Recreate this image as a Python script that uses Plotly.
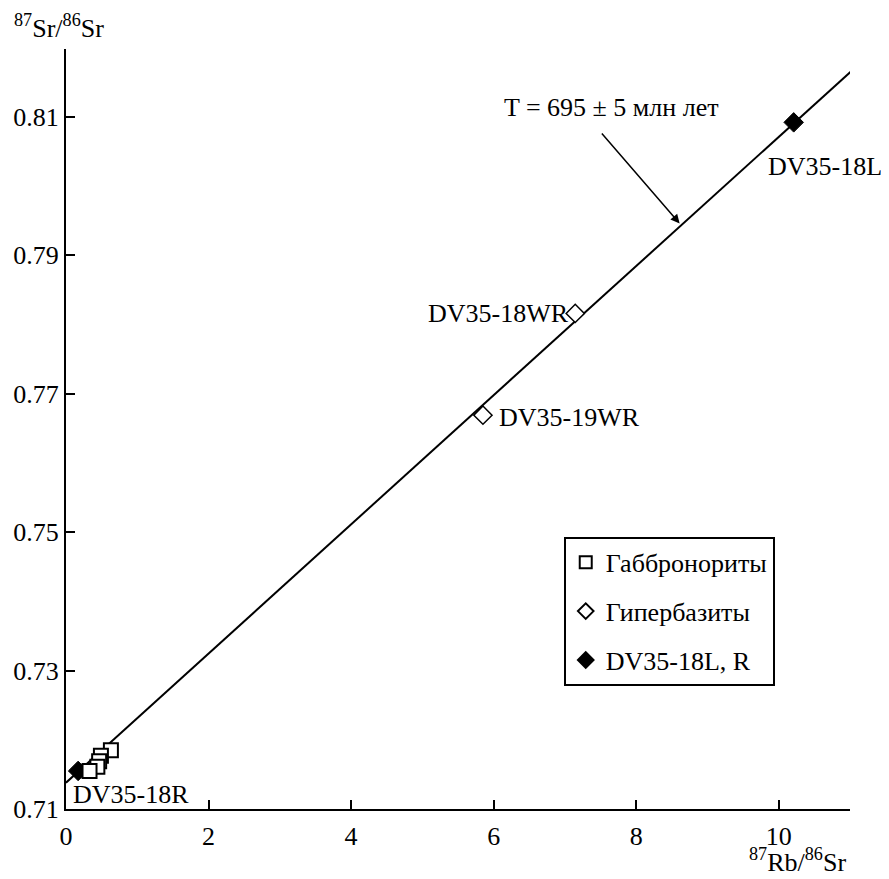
import plotly.graph_objects as go

# Габбронориты (open squares)
gab_x = [0.63, 0.49, 0.465, 0.44, 0.33]
gab_y = [0.7185, 0.7177, 0.7169, 0.7161, 0.7155]

# Гипербазиты (open diamonds)
hyp_names = ["DV35-18WR", "DV35-19WR"]
hyp_x = [7.145, 5.85]
hyp_y = [0.7816, 0.7669]

# DV35-18L, R (filled diamonds)
dv_names = ["DV35-18L", "DV35-18R"]
dv_x = [10.21, 0.17]
dv_y = [0.8092, 0.7155]

# Isochron
iso_x = [0.0, 11.05]
iso_intercept = 0.7138
iso_slope = 0.00933
iso_y = [iso_intercept + iso_slope * v for v in iso_x]

x_ticks = [0, 2, 4, 6, 8, 10]
y_ticks = [0.71, 0.73, 0.75, 0.77, 0.79, 0.81]

FONT = "Liberation Serif, Times New Roman, serif"
fs = 26

fig = go.Figure()
fig.add_trace(go.Scatter(x=iso_x, y=iso_y, mode="lines",
                         line=dict(color="black", width=2), showlegend=False,
                         hoverinfo="skip"))
fig.add_trace(go.Scatter(x=dv_x, y=dv_y, mode="markers", name="DV35-18L, R",
                         legendgroup="c", legendrank=3,
                         marker=dict(symbol="diamond", size=15, color="black",
                                     line=dict(color="black", width=1))))
fig.add_trace(go.Scatter(x=gab_x, y=gab_y, mode="markers", name="Габбронориты",
                         legendgroup="a", legendrank=1,
                         marker=dict(symbol="square", size=14, color="white",
                                     line=dict(color="black", width=2))))
fig.add_trace(go.Scatter(x=hyp_x, y=hyp_y, mode="markers", name="Гипербазиты",
                         legendgroup="b", legendrank=2,
                         marker=dict(symbol="diamond", size=14, color="white",
                                     line=dict(color="black", width=1.5))))

ann = []
# point labels
ann.append(dict(x=dv_x[0], y=dv_y[0], text=dv_names[0], showarrow=False,
                xanchor="left", yanchor="middle", xshift=-28, yshift=-44,
                font=dict(family=FONT, size=fs, color="black")))
ann.append(dict(x=dv_x[1], y=dv_y[1], text=dv_names[1], showarrow=False,
                xanchor="left", yanchor="middle", xshift=-7, yshift=-24,
                font=dict(family=FONT, size=fs, color="black")))
ann.append(dict(x=hyp_x[0], y=hyp_y[0], text=hyp_names[0], showarrow=False,
                xanchor="right", yanchor="middle", xshift=-4, yshift=0,
                font=dict(family=FONT, size=fs, color="black")))
ann.append(dict(x=hyp_x[1], y=hyp_y[1], text=hyp_names[1], showarrow=False,
                xanchor="left", yanchor="middle", xshift=14, yshift=-2,
                font=dict(family=FONT, size=fs, color="black")))
# age annotation
ann.append(dict(x=7.65, y=0.8114, text="T = 695 ± 5 млн лет", showarrow=False,
                xanchor="center", yanchor="middle",
                font=dict(family=FONT, size=fs, color="black")))
ann.append(dict(x=8.61, y=0.7946, ax=7.5, ay=0.8078, axref="x", ayref="y",
                text="", showarrow=True, arrowhead=2, arrowsize=1.2,
                arrowwidth=1.5, arrowcolor="black"))
# axis titles
ann.append(dict(x=0, y=1, xref="paper", yref="paper", text="<sup>87</sup>Sr/<sup>86</sup>Sr",
                showarrow=False, xanchor="center", yanchor="bottom", yshift=4, xshift=-7,
                font=dict(family=FONT, size=fs, color="black")))
ann.append(dict(x=1, y=0, xref="paper", yref="paper", text="<sup>87</sup>Rb/<sup>86</sup>Sr",
                showarrow=False, xanchor="right", yanchor="middle", yshift=-51, xshift=-2,
                font=dict(family=FONT, size=fs, color="black")))

fig.update_layout(
    width=881, height=871,
    margin=dict(l=58, r=39, t=41, b=70, autoexpand=False),
    paper_bgcolor="white", plot_bgcolor="white",
    font=dict(family=FONT, size=fs, color="black"),
    annotations=ann,
    showlegend=True,
    legend=dict(x=0.904, y=0.358, xanchor="right", yanchor="top",
                bordercolor="black", borderwidth=2, bgcolor="white",
                font=dict(family=FONT, size=fs, color="black"),
                tracegroupgap=12, itemsizing="constant",
                traceorder="grouped", itemwidth=30),
    xaxis=dict(range=[0, 11.0], tickvals=x_ticks, ticktext=[str(v) for v in x_ticks],
               showgrid=False, zeroline=False, showline=True, linecolor="black",
               linewidth=2, ticks="inside", ticklen=9, tickwidth=2, tickcolor="black",
               mirror=False, tickfont=dict(family=FONT, size=fs), ticklabelstandoff=3,
               automargin=False),
    yaxis=dict(range=[0.71, 0.8198], tickvals=y_ticks, ticktext=[f"{v:.2f}" for v in y_ticks],
               showgrid=False, zeroline=False, showline=True, linecolor="black",
               linewidth=2, ticks="inside", ticklen=9, tickwidth=2, tickcolor="black",
               mirror=False, tickfont=dict(family=FONT, size=fs), ticklabelstandoff=0,
               automargin=False),
)

fig.write_html("out.html")
